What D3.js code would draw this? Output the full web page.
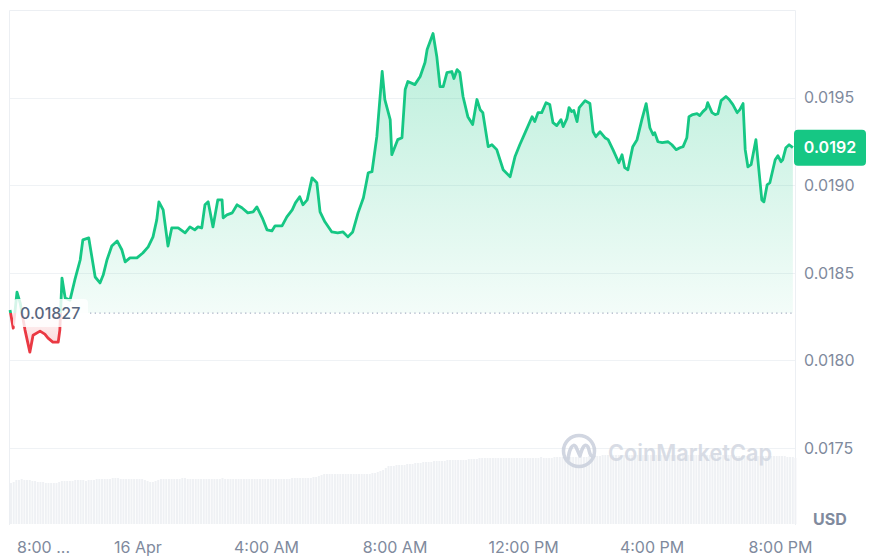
<!DOCTYPE html>
<html>
<head>
<meta charset="utf-8">
<script src="https://cdn.jsdelivr.net/npm/d3@7"></script>
<style>
  html, body { margin: 0; padding: 0; background: #fff; }
  svg { display: block; font-family: Inter, "Noto Sans", sans-serif; }
</style>
</head>
<body>
<div id="chart"></div>
<script>
// 24h price window, 15 Apr 8:00 PM -> 16 Apr ~8:25 PM
var startTime = new Date(2024, 3, 15, 20, 0);
var endTime = new Date(2024, 3, 16, 20, 27);

// minutes after startTime
var priceTimes = [
  1, 7, 14, 20, 29, 38, 44, 57, 66, 72,
  81, 91, 94, 98, 104, 113, 122, 132, 137, 148,
  160, 169, 175, 182, 191, 201, 210, 216, 225, 238,
  249, 259, 268, 275, 279, 287, 296, 303, 315, 328,
  337, 346, 352, 359, 365, 371, 380, 389, 397, 399,
  406, 416, 425, 434, 445, 455, 462, 472, 481, 490,
  496, 509, 518, 528, 534, 542, 548, 556, 565, 574,
  580, 589, 602, 613, 623, 632, 641, 651, 661, 670,
  677, 686, 696, 701, 711, 714, 725, 733, 739, 744,
  757, 767, 776, 780, 791, 798, 804, 810, 817, 826,
  830, 836, 841, 847, 856, 865, 873, 879, 884, 894,
  901, 910, 922, 935, 944, 953, 963, 976, 981, 987,
  994, 1002, 1009, 1015, 1022, 1030, 1034, 1041, 1045, 1050,
  1054, 1060, 1064, 1075, 1084, 1090, 1095, 1103, 1112, 1118,
  1127, 1138, 1144, 1149, 1155, 1164, 1172, 1181, 1189, 1196,
  1202, 1205, 1211, 1219, 1230, 1237, 1245, 1252, 1258, 1265,
  1269, 1276, 1284, 1289, 1295, 1301, 1304, 1312, 1318, 1323,
  1329, 1338, 1344, 1351, 1359, 1364, 1370, 1374, 1379, 1385,
  1394, 1405, 1409, 1415, 1420, 1430, 1435, 1441, 1444, 1450,
  1456, 1463
];

var prices = [
  0.018287, 0.018184, 0.018390, 0.018327, 0.018173, 0.018047, 0.018144, 0.018167, 0.018150, 0.018127,
  0.018104, 0.018104, 0.018173, 0.018470, 0.018356, 0.018344, 0.018459, 0.018573, 0.018688, 0.018699,
  0.018476, 0.018442, 0.018487, 0.018573, 0.018653, 0.018682, 0.018630, 0.018562, 0.018585, 0.018585,
  0.018613, 0.018648, 0.018705, 0.018802, 0.018905, 0.018859, 0.018653, 0.018756, 0.018756, 0.018728,
  0.018762, 0.018745, 0.018762, 0.018756, 0.018888, 0.018905, 0.018762, 0.018916, 0.018916, 0.018814,
  0.018831, 0.018842, 0.018888, 0.018871, 0.018842, 0.018848, 0.018876, 0.018814, 0.018745, 0.018739,
  0.018768, 0.018768, 0.018819, 0.018859, 0.018899, 0.018934, 0.018888, 0.018916, 0.019042, 0.019014,
  0.018848, 0.018791, 0.018733, 0.018728, 0.018733, 0.018705, 0.018733, 0.018842, 0.018928, 0.019071,
  0.019077, 0.019277, 0.019649, 0.019489, 0.019374, 0.019174, 0.019260, 0.019271, 0.019546, 0.019592,
  0.019574, 0.019620, 0.019700, 0.019775, 0.019866, 0.019735, 0.019563, 0.019563, 0.019643, 0.019649,
  0.019609, 0.019660, 0.019643, 0.019506, 0.019391, 0.019346, 0.019489, 0.019431, 0.019414, 0.019220,
  0.019231, 0.019203, 0.019088, 0.019048, 0.019162, 0.019231, 0.019300, 0.019391, 0.019363, 0.019414,
  0.019414, 0.019471, 0.019460, 0.019357, 0.019340, 0.019374, 0.019334, 0.019380, 0.019443, 0.019420,
  0.019426, 0.019363, 0.019443, 0.019483, 0.019466, 0.019305, 0.019277, 0.019305, 0.019271, 0.019260,
  0.019203, 0.019128, 0.019174, 0.019100, 0.019088, 0.019220, 0.019260, 0.019374, 0.019466, 0.019328,
  0.019288, 0.019300, 0.019248, 0.019243, 0.019248, 0.019231, 0.019203, 0.019214, 0.019220, 0.019271,
  0.019391, 0.019403, 0.019408, 0.019397, 0.019420, 0.019437, 0.019471, 0.019414, 0.019403, 0.019408,
  0.019483, 0.019506, 0.019489, 0.019460, 0.019414, 0.019431, 0.019466, 0.019203, 0.019105, 0.019117,
  0.019260, 0.018916, 0.018905, 0.019002, 0.019014, 0.019145, 0.019168, 0.019134, 0.019145, 0.019214,
  0.019231, 0.019214
];

var openPrice = 0.01827;

// volume, one bar per 5 minutes, one row per hour (arbitrary units)
var volumeStep = 5;
var volumes = [
  4.1, 4.2, 4.4, 4.4, 4.5, 4.4, 4.4, 4.4, 4.3, 4.3, 4.2, 4.2,
  4.2, 4.1, 4.1, 4.1, 4.1, 4.1, 4.2, 4.3, 4.3, 4.3, 4.3, 4.3,
  4.4, 4.4, 4.4, 4.4, 4.3, 4.4, 4.4, 4.4, 4.5, 4.5, 4.5, 4.5,
  4.5, 4.5, 4.6, 4.6, 4.6, 4.5, 4.5, 4.5, 4.5, 4.5, 4.5, 4.5,
  4.5, 4.5, 4.4, 4.3, 4.2, 4.2, 4.3, 4.4, 4.5, 4.5, 4.5, 4.5,
  4.5, 4.5, 4.5, 4.5, 4.6, 4.6, 4.5, 4.5, 4.5, 4.5, 4.5, 4.5,
  4.5, 4.5, 4.5, 4.5, 4.5, 4.5, 4.5, 4.6, 4.5, 4.5, 4.5, 4.5,
  4.5, 4.5, 4.5, 4.5, 4.5, 4.5, 4.5, 4.5, 4.5, 4.5, 4.5, 4.5,
  4.5, 4.5, 4.5, 4.5, 4.5, 4.5, 4.5, 4.5, 4.5, 4.6, 4.6, 4.6,
  4.6, 4.6, 4.6, 4.6, 4.6, 4.7, 4.7, 4.8, 4.9, 5.0, 5.0, 5.0,
  5.0, 5.0, 5.0, 5.0, 5.0, 5.0, 5.0, 5.0, 5.0, 5.0, 5.0, 5.0,
  5.0, 5.0, 5.0, 5.1, 5.1, 5.2, 5.3, 5.4, 5.6, 5.8, 5.8, 5.8,
  5.9, 5.9, 5.9, 5.9, 6.0, 6.0, 6.0, 6.1, 6.1, 6.1, 6.2, 6.2,
  6.2, 6.2, 6.3, 6.3, 6.3, 6.3, 6.3, 6.4, 6.4, 6.4, 6.4, 6.4,
  6.4, 6.4, 6.4, 6.5, 6.5, 6.5, 6.5, 6.6, 6.6, 6.6, 6.6, 6.6,
  6.6, 6.6, 6.6, 6.6, 6.6, 6.6, 6.6, 6.6, 6.6, 6.6, 6.6, 6.6,
  6.6, 6.6, 6.6, 6.6, 6.6, 6.6, 6.7, 6.6, 6.6, 6.6, 6.6, 6.7,
  6.7, 6.7, 6.7, 6.7, 6.7, 6.7, 6.7, 6.7, 6.7, 6.7, 6.7, 6.7,
  6.8, 6.8, 6.8, 6.8, 6.8, 6.9, 6.9, 6.9, 6.9, 6.9, 6.9, 6.9,
  6.9, 6.9, 6.9, 6.9, 6.9, 6.9, 6.9, 6.9, 6.9, 6.9, 6.9, 6.9,
  6.9, 6.9, 6.9, 6.9, 6.9, 6.9, 6.9, 6.9, 6.9, 6.9, 6.9, 6.9,
  6.9, 6.9, 6.9, 6.9, 6.9, 6.9, 6.9, 6.9, 6.9, 6.9, 6.9, 6.9,
  6.9, 6.9, 6.9, 6.9, 6.9, 6.9, 6.9, 6.8, 6.8, 6.8, 6.8, 6.8,
  6.8, 6.8, 6.8, 6.8, 6.8, 6.8, 6.8, 6.8, 6.8, 6.8, 6.8, 6.8,
  6.8, 6.8, 6.7, 6.7, 6.7, 6.6
];

var yTicks = [0.0175, 0.0180, 0.0185, 0.0190, 0.0195];
var currency = "USD";
var watermark = "CoinMarketCap";

var width = 870, height = 556;
var plotLeft = 10, plotRight = 795, plotTop = 10, plotBottom = 525;
var green = "#16c784", red = "#ea3943", axisGray = "#808a9d", gridGray = "#eff2f5";

var x = d3.scaleTime().domain([startTime, endTime]).range([9.5, plotRight]);
var y = d3.scaleLinear().domain([0.0175, 0.0200]).range([448, plotTop]);
var yVol = d3.scaleLinear().domain([0, d3.max(volumes)]).range([524, 455]);

var data = priceTimes.map(function(m, i) {
  return { t: d3.timeMinute.offset(startTime, m), p: prices[i] };
});
var yOpen = y(openPrice);

var svg = d3.select("#chart").append("svg")
  .attr("width", width)
  .attr("height", height);

var defs = svg.append("defs");

var gUp = defs.append("linearGradient").attr("id", "fillUp")
  .attr("gradientUnits", "userSpaceOnUse")
  .attr("x1", 0).attr("x2", 0)
  .attr("y1", y(d3.max(prices))).attr("y2", yOpen);
gUp.append("stop").attr("offset", 0).attr("stop-color", green).attr("stop-opacity", 0.3);
gUp.append("stop").attr("offset", 1).attr("stop-color", green).attr("stop-opacity", 0.05);

var gDown = defs.append("linearGradient").attr("id", "fillDown")
  .attr("gradientUnits", "userSpaceOnUse")
  .attr("x1", 0).attr("x2", 0)
  .attr("y1", yOpen).attr("y2", y(d3.min(prices)));
gDown.append("stop").attr("offset", 0).attr("stop-color", red).attr("stop-opacity", 0.05);
gDown.append("stop").attr("offset", 1).attr("stop-color", red).attr("stop-opacity", 0.22);

defs.append("clipPath").attr("id", "clipUp")
  .append("rect").attr("x", 0).attr("y", 0).attr("width", width).attr("height", yOpen);
defs.append("clipPath").attr("id", "clipDown")
  .append("rect").attr("x", 0).attr("y", yOpen).attr("width", width).attr("height", height - yOpen);

// grid + frame
svg.append("g").selectAll("line")
  .data(yTicks)
  .enter().append("line")
    .attr("x1", plotLeft).attr("x2", plotRight)
    .attr("y1", function(d) { return Math.round(y(d)) + 0.5; })
    .attr("y2", function(d) { return Math.round(y(d)) + 0.5; })
    .attr("stroke", gridGray);

svg.append("path")
  .attr("d", "M" + (plotLeft - 0.5) + "," + plotBottom + "V" + (plotTop + 0.5) + "H" + (plotRight + 0.5) + "V" + plotBottom)
  .attr("fill", "none")
  .attr("stroke", "#eceff3");

// volume bars
var barW = x(d3.timeMinute.offset(startTime, volumeStep)) - x(startTime);
svg.append("g").selectAll("rect")
  .data(volumes)
  .enter().append("rect")
    .attr("x", function(d, i) { return x(d3.timeMinute.offset(startTime, i * volumeStep)) + 0.5; })
    .attr("y", function(d) { return yVol(d); })
    .attr("width", barW - 0.7)
    .attr("height", function(d) { return yVol(0) - yVol(d); })
    .attr("fill", "#eff1f4");

// watermark
var wm = svg.append("g").attr("opacity", 0.85);
wm.append("circle")
  .attr("cx", 579).attr("cy", 451).attr("r", 15.5)
  .attr("fill", "none").attr("stroke", "#c9cfdc").attr("stroke-width", 3.5);
wm.append("path")
  .attr("d", "M568,460 C569,449 573,442 576,447 L580,456 C582,448 585,442 588,447 C590,451 589,457 594,456")
  .attr("fill", "none").attr("stroke", "#c9cfdc").attr("stroke-width", 3.5)
  .attr("stroke-linecap", "round").attr("stroke-linejoin", "round");
wm.append("text")
  .attr("x", 608).attr("y", 461)
  .attr("font-size", 23).attr("font-weight", 600)
  .attr("fill", "#d2d7e1")
  .attr("textLength", 164).attr("lengthAdjust", "spacingAndGlyphs")
  .text(watermark);

// price areas and lines, split at the open price
var area = d3.area()
  .x(function(d) { return x(d.t); })
  .y0(yOpen)
  .y1(function(d) { return y(d.p); });
var line = d3.line()
  .x(function(d) { return x(d.t); })
  .y(function(d) { return y(d.p); });

svg.append("path").datum(data)
  .attr("clip-path", "url(#clipUp)")
  .attr("d", area).attr("fill", "url(#fillUp)");
svg.append("path").datum(data)
  .attr("clip-path", "url(#clipDown)")
  .attr("d", area).attr("fill", "url(#fillDown)");
svg.append("path").datum(data)
  .attr("clip-path", "url(#clipUp)")
  .attr("d", line).attr("fill", "none")
  .attr("stroke", green).attr("stroke-width", 2.8).attr("stroke-linejoin", "round");
svg.append("path").datum(data)
  .attr("clip-path", "url(#clipDown)")
  .attr("d", line).attr("fill", "none")
  .attr("stroke", red).attr("stroke-width", 2.8).attr("stroke-linejoin", "round");

// open price reference
svg.append("line")
  .attr("x1", 90).attr("x2", plotRight)
  .attr("y1", yOpen).attr("y2", yOpen)
  .attr("stroke", "#a6b0c3").attr("stroke-width", 1.3)
  .attr("stroke-dasharray", "1.3,3.4");
svg.append("rect")
  .attr("x", 13).attr("y", yOpen - 14).attr("width", 75).attr("height", 28).attr("rx", 4)
  .attr("fill", "#fff").attr("fill-opacity", 0.82);
svg.append("text")
  .attr("x", 20).attr("y", yOpen)
  .attr("dy", "0.36em")
  .attr("font-size", 16).attr("font-weight", 500)
  .attr("fill", "#58667e")
  .text(openPrice);

// right axis
svg.append("g").selectAll("text")
  .data(yTicks)
  .enter().append("text")
    .attr("x", 804)
    .attr("y", function(d) { return y(d); })
    .attr("dy", "0.36em")
    .attr("font-size", 16)
    .attr("fill", axisGray)
    .text(d3.format(".4f"));

// last price tag
var last = data[data.length - 1];
var yLast = y(last.p);
svg.append("rect")
  .attr("x", 794).attr("y", yLast - 18).attr("width", 72).attr("height", 36).attr("rx", 4)
  .attr("fill", green);
svg.append("text")
  .attr("x", 830).attr("y", yLast)
  .attr("dy", "0.36em")
  .attr("text-anchor", "middle")
  .attr("font-size", 16).attr("font-weight", 600)
  .attr("fill", "#fff")
  .text(d3.format(".3r")(last.p));

// time axis
var fmtDay = d3.timeFormat("%-d %b"), fmtHour = d3.timeFormat("%-I:%M %p");
var timeTicks = x.ticks(d3.timeHour.every(4));
svg.append("g").selectAll("text")
  .data(timeTicks)
  .enter().append("text")
    .attr("x", function(d, i) { return i === 0 && x(d) < 40 ? 17 : x(d); })
    .attr("y", 553)
    .attr("text-anchor", function(d, i) { return i === 0 && x(d) < 40 ? "start" : "middle"; })
    .attr("font-size", 16)
    .attr("fill", axisGray)
    .text(function(d, i) {
      var s = d.getHours() === 0 ? fmtDay(d) : fmtHour(d);
      return i === 0 && x(d) < 40 ? s.slice(0, 4) + " ..." : s;
    });

svg.append("text")
  .attr("x", 813).attr("y", 525)
  .attr("font-size", 16).attr("font-weight", 700)
  .attr("fill", axisGray)
  .text(currency);
</script>
</body>
</html>
